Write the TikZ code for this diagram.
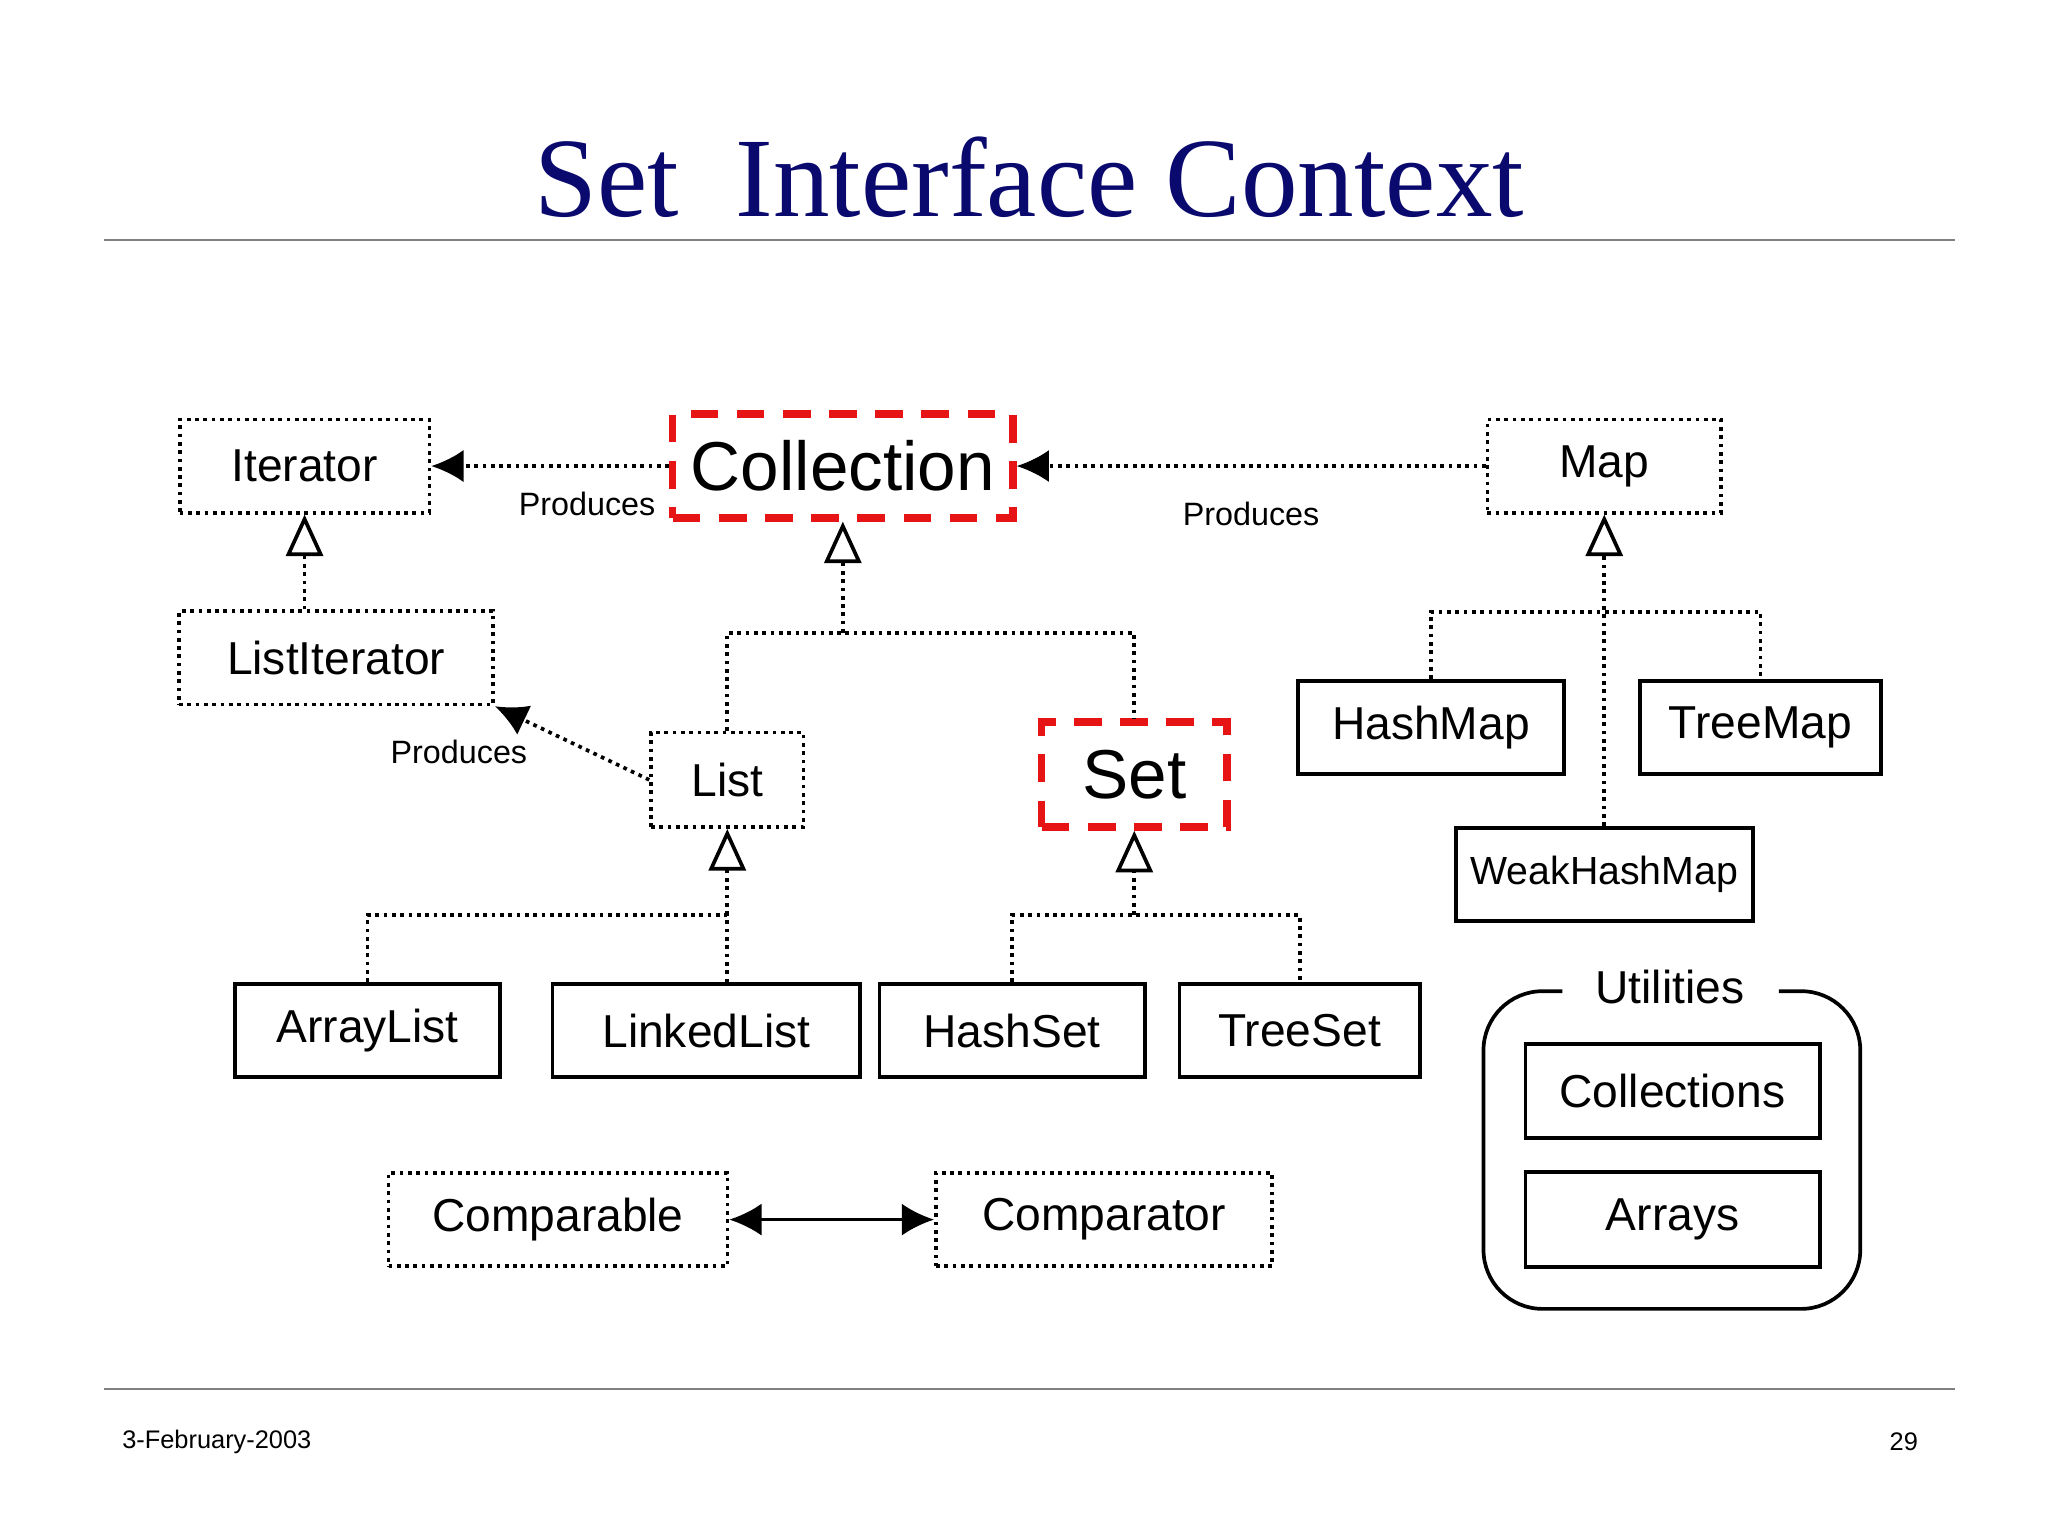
\documentclass[tikz,border=0pt]{standalone}
\usepackage{fontspec}
\setmainfont{Liberation Sans}
\newfontfamily\titlefont{Liberation Serif}
\usetikzlibrary{arrows.meta, positioning}
\definecolor{navy}{RGB}{10,10,110}
\definecolor{boxred}{RGB}{230,20,20}

\begin{document}
\begin{tikzpicture}[x=0.01cm, y=-0.01cm, thick,
			iface/.style={draw, densely dotted, minimum height=0.71cm, inner sep=0pt, font=\fontsize{10}{12}\selectfont},
			cls/.style={draw, solid, minimum height=0.71cm, inner sep=0pt, font=\fontsize{10}{12}\selectfont},
			hot/.style={draw=boxred, dashed, line width=1.6pt, dash pattern=on 6pt off 4pt, inner sep=0pt, font=\fontsize{15}{17}\selectfont},
			inh/.style={densely dotted, -{Triangle[open, length=9pt, width=8pt, sep=0pt]}},
			prod/.style={densely dotted, -{Latex[length=7pt, width=7pt]}},
			lbl/.style={font=\fontsize{7}{9}\selectfont}]
			
			% Rahmen und Titel
			\useasboundingbox (0,0) rectangle (1560,1170);
			\node[text=navy, font=\titlefont\fontsize{24.5}{28}\selectfont] (title) at (784,135) {Set\ \ Interface Context};
			\draw[thin, gray] (79,183) -- (1489,183);
			\draw[thin, gray] (79,1058) -- (1489,1058);
			\node[font=\fontsize{5.5}{7}\selectfont, anchor=west] (date) at (80,1098) {3-February-2003};
			\node[font=\fontsize{5.5}{7}\selectfont, anchor=east] (page) at (1474,1098) {29};
			
			% Interfaces
			\node[iface, minimum width=1.90cm] (Iterator) at (232,355) {Iterator};
			\node[hot, minimum width=2.59cm, minimum height=0.79cm] (Collection) at (642,355) {Collection};
			\node[iface, minimum width=1.78cm] (Map) at (1222,355) {Map};
			\node[iface, minimum width=2.39cm] (ListIterator) at (256,501) {ListIterator};
			\node[iface, minimum width=1.16cm, minimum height=0.72cm] (List) at (554,594) {List};
			\node[hot, minimum width=1.41cm, minimum height=0.80cm] (Set) at (864,590) {Set};
			\node[iface, minimum width=2.58cm] (Comparable) at (425,929) {Comparable};
			\node[iface, minimum width=2.56cm] (Comparator) at (841,929) {Comparator};
			
			% Klassen
			\node[cls, minimum width=2.02cm] (HashMap) at (1090,554) {HashMap};
			\node[cls, minimum width=1.83cm] (TreeMap) at (1341,554) {TreeMap};
			\node[cls, minimum width=2.26cm, font=\fontsize{8.5}{10}\selectfont] (WeakHashMap) at (1222,666) {WeakHashMap};
			\node[cls, minimum width=2.02cm] (ArrayList) at (280,785) {ArrayList};
			\node[cls, minimum width=2.34cm] (LinkedList) at (538,785) {LinkedList};
			\node[cls, minimum width=2.02cm] (HashSet) at (771,785) {HashSet};
			\node[cls, minimum width=1.83cm] (TreeSet) at (990,785) {TreeSet};
			
			% Utilities
			\draw[rounded corners=0.45cm] (1190,755) -- (1130,755) -- (1130,997) -- (1417,997) -- (1417,755) -- (1355,755);
			\node[font=\fontsize{10}{12}\selectfont] (util) at (1272,752) {Utilities};
			\node[cls, minimum width=2.24cm, minimum height=0.72cm] (Collections) at (1274,831) {Collections};
			\node[cls, minimum width=2.24cm, minimum height=0.72cm] (Arrays) at (1274,929) {Arrays};
			
			% Verzweigungspunkte
			\coordinate (jC) at (642,482);
			\coordinate (jM) at (1222,466);
			\coordinate (jL) at (554,697);
			\coordinate (jS) at (864,697);
			
			% Vererbung
			\draw[inh] (ListIterator.north -| Iterator) -- (Iterator);
			\draw[inh] (jC) -- (Collection);
			\draw[densely dotted] (List.north) |- (jC) -| (Set.north);
			\draw[inh] (WeakHashMap) -- (Map);
			\draw[densely dotted] (HashMap.north) |- (jM) -| (TreeMap.north);
			\draw[inh] (jL) -- (List);
			\draw[densely dotted] (ArrayList.north) |- (jL) -- (LinkedList.north -| jL);
			\draw[inh] (jS) -- (Set);
			\draw[densely dotted] (HashSet.north) |- (jS) -| (TreeSet.north);
			
			% Produces
			\draw[prod] (Collection.west) -- node[lbl, below=2pt, xshift=8pt]{Produces} (Iterator.east);
			\draw[prod] (Map.west) -- node[lbl, below=4pt]{Produces} (Collection.east);
			\draw[prod] (List.west) -- node[lbl, left=6pt, yshift=-2pt]{Produces} (ListIterator.south east);
			
			% Vergleich
			\draw[{Latex[length=7pt, width=7pt]}-{Latex[length=7pt, width=7pt]}] (Comparable) -- (Comparator);
		\end{tikzpicture}
\end{document}
